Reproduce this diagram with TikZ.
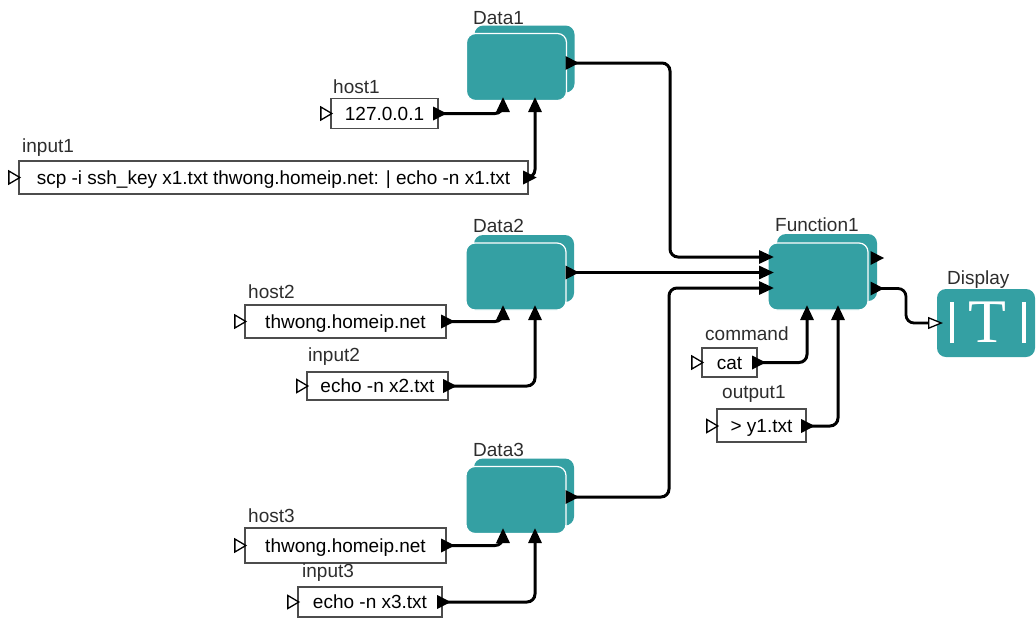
\documentclass[tikz,border=0pt]{standalone}
\usepackage{fontspec}
\setmainfont{Liberation Sans}
\newfontfamily\dspfont{Liberation Serif}
\usetikzlibrary{arrows.meta}

\definecolor{blockteal}{RGB}{52,160,163}
\definecolor{labelgray}{RGB}{45,45,45}

\tikzset{
  block/.style={fill=blockteal, draw=white, line width=1.2pt, rounded corners=9pt,
    minimum width=100pt, minimum height=67pt, inner sep=0pt},
  blockback/.style={block, draw=none},
  valbox/.style={draw=black!70, line width=1.3pt, fill=white, inner sep=0pt,
    text height=17pt, text depth=4pt, font=\fontsize{19}{22}\selectfont},
  caption/.style={anchor=base west, inner sep=0pt, text=labelgray,
    font=\fontsize{19}{22}\selectfont},
  wire/.style={line width=3pt, rounded corners=8pt,
    -{Triangle[length=15pt,width=13pt]}},
  pics/outport/.style={code={\fill (-6.5,-7) -- (7,0) -- (-6.5,7) -- cycle;}},
  pics/inport/.style={code={\draw[line width=1.3pt, fill=white, line join=miter]
    (-5.5,-6.5) -- (5.5,0) -- (-5.5,6.5) -- cycle;}},
}

\begin{document}
\begin{tikzpicture}[x=1pt,y=-1pt]
\useasboundingbox (0,0) rectangle (1036,619);

% actors
\node[blockback] (d1s) at (524.5,59) {};
\node[block] (d1) at (516.5,67) {};
\node[blockback] (d2s) at (524,268.5) {};
\node[block] (d2) at (516,276.5) {};
\node[blockback] (d3s) at (524,492) {};
\node[block] (d3) at (516,500) {};
\node[blockback] (f1s) at (827,267.5) {};
\node[block] (f1) at (818,276.5) {};
\node[block, draw=none, minimum width=98pt, minimum height=68pt] (dsp) at (986,323) {};
\draw[white, line width=4pt] (952,302) -- (952,343);
\draw[white, line width=4pt] (1024,302) -- (1024,343);
\node[inner sep=0pt, text=white, font=\dspfont\fontsize{62}{62}\selectfont] (dspT) at (987,322.5) {T};

\node[caption] (d1t) at (473,24) {Data1};
\node[caption] (d2t) at (473,232) {Data2};
\node[caption] (d3t) at (473,456) {Data3};
\node[caption] (f1t) at (775,231) {Function1};
\node[caption] (dspt) at (947,284) {Display};

% parameters
\node[valbox, minimum width=107pt, minimum height=30pt] (h1) at (384.5,113.5) {127.0.0.1};
\node[valbox, minimum width=509pt, minimum height=33pt] (i1) at (273.5,177.5) {scp -i ssh\_key x1.txt thwong.homeip.net: | echo -n x1.txt};
\node[valbox, minimum width=201pt, minimum height=33pt] (h2) at (345.5,321.5) {thwong.homeip.net};
\node[valbox, minimum width=141pt, minimum height=28pt] (i2) at (377.5,386) {echo -n x2.txt};
\node[valbox, minimum width=201pt, minimum height=35pt] (h3) at (345.5,545.5) {thwong.homeip.net};
\node[valbox, minimum width=144pt, minimum height=30pt] (i3) at (370,602) {echo -n x3.txt};
\node[valbox, minimum width=55pt, minimum height=29pt] (cmd) at (729.5,362.5) {cat};
\node[valbox, minimum width=89pt, minimum height=33pt] (out1) at (761.5,425.5) {> y1.txt};

\node[caption] (h1t) at (333,93) {host1};
\node[caption] (i1t) at (22,152) {input1};
\node[caption] (h2t) at (248,298) {host2};
\node[caption] (i2t) at (308,361) {input2};
\node[caption] (h3t) at (248,522) {host3};
\node[caption] (i3t) at (302,577) {input3};
\node[caption] (cmdt) at (705,340) {command};
\node[caption] (out1t) at (722,398) {output1};

% ports
\coordinate (d1o) at (572,63);
\coordinate (d2o) at (572,272.5);
\coordinate (d3o) at (572,497);
\coordinate (d1a) at (503,97);
\coordinate (d1b) at (535,97);
\coordinate (d2a) at (503,305);
\coordinate (d2b) at (535,305);
\coordinate (d3a) at (503,528);
\coordinate (d3b) at (535,528);
\coordinate (f1a) at (774,257);
\coordinate (f1b) at (774,272.5);
\coordinate (f1c) at (774,288);
\coordinate (f1d) at (807,305);
\coordinate (f1e) at (838,305);
\coordinate (f1o1) at (877,258);
\coordinate (f1o2) at (877,288.5);
\coordinate (dspin) at (943,323);
\coordinate (bus1) at (670,160);
\coordinate (bus3) at (669,400);
\coordinate (bus4) at (906,305);

% links
\draw[wire] ([xshift=1pt]h1.east) -| (d1a);
\draw[wire] ([xshift=1pt]i1.east) -| (d1b);
\draw[wire] ([xshift=1pt]h2.east) -| (d2a);
\draw[wire] ([xshift=1pt]i2.east) -| (d2b);
\draw[wire] ([xshift=1pt]h3.east) -| (d3a);
\draw[wire] ([xshift=1pt]i3.east) -| (d3b);
\draw[wire] (d1o) -| (bus1) |- (f1a);
\draw[wire] (d2o) -- (f1b);
\draw[wire] (d3o) -| (bus3) |- (f1c);
\draw[wire] ([xshift=1pt]cmd.east) -| (f1d);
\draw[wire] ([xshift=1pt,yshift=-0.5pt]out1.east) -| (f1e);
\draw[line width=2.8pt, rounded corners=8pt,
  -{Triangle[open, fill=white, line width=1.3pt, length=15pt, width=12pt]}]
  (f1o2) -| (bus4) |- (dspin);

\pic at ([xshift=-4pt]h1.west) {inport};
\pic at ([xshift=-4pt]i1.west) {inport};
\pic at ([xshift=-4pt]h2.west) {inport};
\pic at ([xshift=-4pt]i2.west) {inport};
\pic at ([xshift=-4pt]h3.west) {inport};
\pic at ([xshift=-4pt]i3.west) {inport};
\pic at ([xshift=-4pt]cmd.west) {inport};
\pic at ([xshift=-4pt,yshift=-0.5pt]out1.west) {inport};
\pic at ([xshift=1pt]h1.east) {outport};
\pic at ([xshift=1pt]i1.east) {outport};
\pic at ([xshift=1pt]h2.east) {outport};
\pic at ([xshift=1pt]i2.east) {outport};
\pic at ([xshift=1pt]h3.east) {outport};
\pic at ([xshift=1pt]i3.east) {outport};
\pic at ([xshift=1pt]cmd.east) {outport};
\pic at ([xshift=1pt,yshift=-0.5pt]out1.east) {outport};
\pic at (d1o) {outport};
\pic at (d2o) {outport};
\pic at (d3o) {outport};
\pic at (f1o1) {outport};
\pic at (f1o2) {outport};
\end{tikzpicture}
\end{document}
